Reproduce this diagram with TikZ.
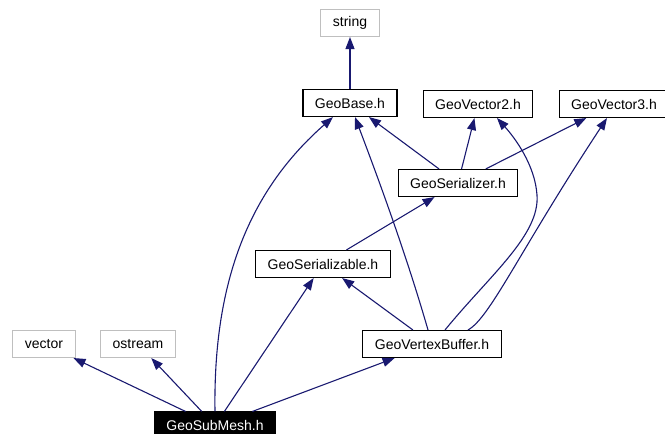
\documentclass[tikz,border=0pt]{standalone}
\usepackage{fontspec}
\setmainfont{Liberation Sans}
\usetikzlibrary{arrows.meta,calc}
\definecolor{edgeblue}{HTML}{191970}
\definecolor{sysgray}{HTML}{BFBFBF}
\tikzset{>={Triangle[length=12pt,width=9pt]}}
\tikzset{
  hdr/.style={draw=black, fill=white, line width=1.1pt, minimum height=27pt,
    inner xsep=12pt, inner ysep=0pt, font=\fontsize{14}{16}\selectfont},
  syshdr/.style={hdr, draw=sysgray},
  curhdr/.style={hdr, fill=black, text=white},
  dep/.style={->, draw=edgeblue, line width=1.1pt},
}

\begin{document}
\begin{tikzpicture}[x=1pt, y=-1pt]
                \useasboundingbox (0,0) rectangle (665,434);

                % Headers
                \node[syshdr] (str) at (350,23) {string};
                \node[hdr] (base) at (350,103) {GeoBase.h};
                \node[hdr] (vec2) at (478,104) {GeoVector2.h};
                \node[hdr] (vec3) at (614,104) {GeoVector3.h};
                \node[hdr] (ser) at (458,183) {GeoSerializer.h};
                \node[hdr] (sable) at (323,264) {GeoSerializable.h};
                \node[hdr] (vbuf) at (432,344) {GeoVertexBuffer.h};
                \node[syshdr] (vec) at (44,344) {vector};
                \node[syshdr] (ost) at (138,344) {ostream};
                \node[curhdr] (sub) at (215,425.5) {GeoSubMesh.h};

                % Straight includes
                \draw[dep] (base) -- (str);
                \draw[dep] (ser) -- (base);
                \draw[dep] (ser) -- (vec2);
                \draw[dep] (ser) -- (vec3);
                \draw[dep] (sable) -- (ser);
                \draw[dep] (vbuf) -- (sable);
                \draw[dep] (sub) -- (vec);
                \draw[dep] (sub) -- (ost);
                \draw[dep] (sub) -- (sable);
                \draw[dep] (sub) -- (vbuf);

                % Curved includes
                \draw[dep] (sub.north) .. controls (213,280) and (250,190) .. ($(base.south)+(-17,0)$);
                \draw[dep] ($(vbuf.north)+(-4,0)$) .. controls (405,250) and (375,170) .. ($(base.south)+(5,0)$);
                \draw[dep] ($(vbuf.north)+(13,0)$) .. controls (490,275) and (540,235) .. (537,195)
                  .. controls (535,165) and (515,138) .. ($(vec2.south)+(19,0)$);
                \draw[dep] ($(vbuf.north)+(36,0)$) .. controls (490,318) and (520,250) .. ($(vec3.south)+(-7,0)$);
\end{tikzpicture}
\end{document}
